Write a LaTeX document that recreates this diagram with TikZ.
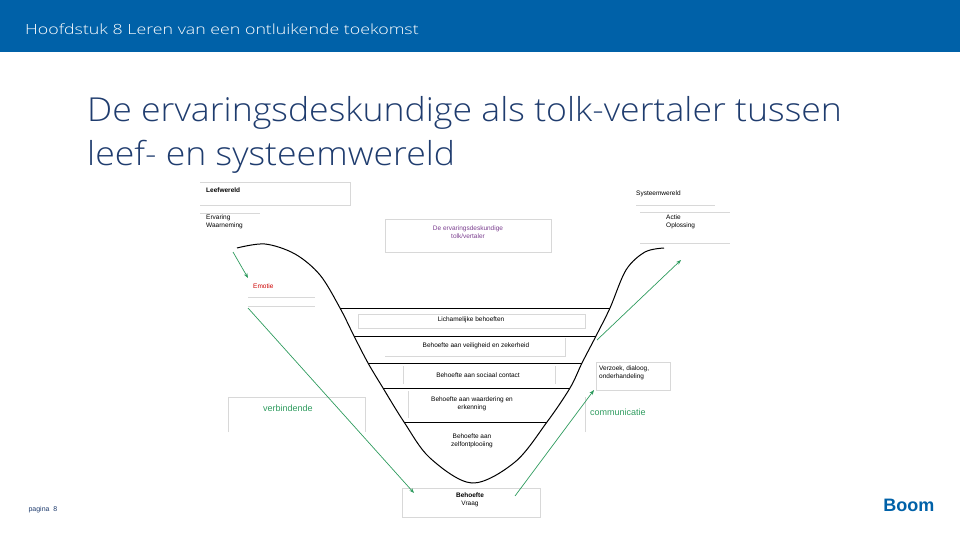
\documentclass[tikz,border=0pt]{standalone}
\usepackage{fontspec}
\setmainfont{Liberation Sans}
\newfontfamily\hlfont{Open Sans Light}[FakeStretch=1.27]
\newfontfamily\tlfont{Open Sans Light}[FakeStretch=1.08]
\usetikzlibrary{arrows.meta}
\definecolor{hdr}{HTML}{0061A8}
\definecolor{ttl}{HTML}{1F3C6E}
\definecolor{grn}{HTML}{2E9B5E}
\definecolor{lgr}{HTML}{D8D8D8}
\definecolor{purp}{HTML}{7A3E8E}
\tikzset{x=1pt,y=-1pt,
 sm/.style={font=\fontsize{6.5}{7.5}\selectfont,align=center,inner sep=0},
 lbox/.style={draw=lgr,line width=0.6pt},
 garr/.style={draw=grn,line width=0.7pt,-{Stealth[length=5pt]}},
 band/.style={line width=0.9pt}}
\begin{document}
\begin{tikzpicture}
\useasboundingbox (0,0) rectangle (960,540);
\fill[hdr] (0,0) rectangle (960,52);
\node[anchor=west,text=white,font=\hlfont\fontsize{14}{15}\selectfont,inner sep=0] (h) at (25,29) {Hoofdstuk 8 Leren van een ontluikende toekomst};
\node[anchor=north west,text=ttl,align=left,font=\tlfont\fontsize{33}{44}\selectfont,inner sep=0] (t) at (87,96) {De ervaringsdeskundige als tolk-vertaler tussen\\leef- en systeemwereld};
% boxes
\draw[lbox] (200,182) -- (350,182) -- (350,205) -- (200,205);
\node[sm,anchor=west,font=\bfseries\fontsize{6.5}{7.5}\selectfont] (lw) at (206,190) {Leefwereld};
\draw[lbox] (200,213) -- (260,213);
\node[sm,anchor=north west,align=left] (ew) at (206,215) {Ervaring\\Waarneming};
\draw[lbox] (385,219) rectangle (551,252);
\node[sm,text=purp] (tv) at (468,232) {De ervaringsdeskundige\\tolk/vertaler};
\draw[lbox] (248,297) -- (315,297);
\node[sm,text=red!80!black,anchor=west] (em) at (253,286) {Emotie};
\draw[lbox] (248,306) -- (315,306);
\draw[lbox] (228,432) -- (228,397) -- (365,397) -- (365,432);
\node[text=grn,anchor=west,font=\fontsize{9}{10}\selectfont,inner sep=0] (vb) at (263,408) {verbindende};
\draw[lbox] (585,432) -- (585,397);
\node[text=grn,anchor=west,font=\fontsize{9}{10}\selectfont,inner sep=0] (cm) at (590,412) {communicatie};
\draw[lbox] (596,362) rectangle (670,390);
\node[sm,anchor=west,align=left] (vz) at (599,373) {Verzoek, dialoog,\\onderhandeling};
\draw[lbox] (402,488) rectangle (540,517);
\node[sm] (bv) at (470,500) {\bfseries Behoefte\\Vraag};
\draw[lbox] (636,205) -- (715,205);
\node[sm,anchor=west] (sw) at (636,194) {Systeemwereld};
\draw[lbox] (640,212) -- (730,212);
\node[sm,anchor=north west,align=left] (ao) at (666,215) {Actie\\Oplossing};
\draw[lbox] (640,243) -- (730,243);
% curve
\draw[line width=1pt] plot[smooth,tension=0.55] coordinates {(237,248) (265,244) (295,254) (320,275) (340,308) (354,336) (368,363) (383,388) (404,422) (430,458) (472,483) (515,462) (547,422) (570,388) (582,363) (596,336) (610,308) (626,270) (645,252) (664,248)};
% bands
\draw[band] (340,308) -- (610,308);
\draw[lbox] (358,314) rectangle (585,328);
\node[sm] (b1) at (471,320) {Lichamelijke behoeften};
\draw[band] (354,336) -- (596,336);
\node[sm] (b2) at (476,346) {Behoefte aan veiligheid en zekerheid};
\draw[lbox] (385,356) -- (565,356) -- (565,338);
\draw[band] (368,363) -- (582,363);
\draw[lbox] (403,366) -- (403,384); \draw[lbox] (555,366) -- (555,384);
\node[sm] (b3) at (478,375) {Behoefte aan sociaal contact};
\draw[band] (383,388) -- (570,388);
\draw[lbox] (408,391) -- (408,418);
\node[sm] (b4) at (472,404) {Behoefte aan waardering en\\erkenning};
\draw[band] (404,422) -- (547,422);
\node[sm] (b5) at (472,441) {Behoefte aan\\zelfontplooiing};
% arrows
\draw[garr] (233,252) -- (248,278);
\draw[garr] (248,308) -- (414,493);
\draw[garr] (515,496) -- (594,390);
\draw[garr] (597,340) -- (681,260);
% footer
\node[anchor=west,font=\fontsize{7}{8}\selectfont,text=ttl] (pg) at (25,510) {pagina \ 8};
\node[anchor=east,font=\bfseries\fontsize{18}{20}\selectfont,text=hdr] (bm) at (938,505) {Boom};
\end{tikzpicture}
\end{document}
